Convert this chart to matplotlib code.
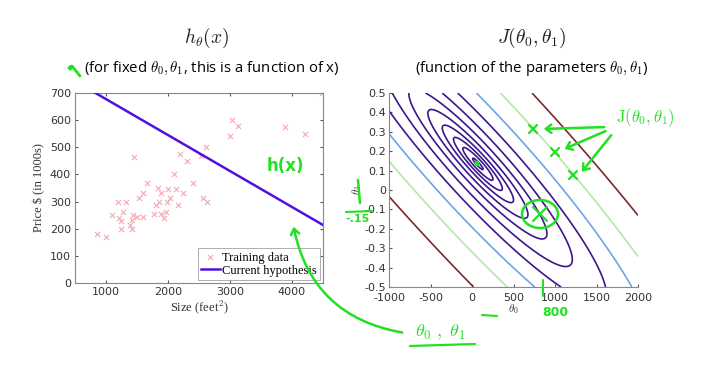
import numpy as np
import matplotlib
matplotlib.use("Agg")
import matplotlib.pyplot as plt
from matplotlib.patches import Ellipse, FancyArrowPatch
from matplotlib.lines import Line2D

plt.rcParams['mathtext.fontset'] = 'cm'

# ---- data ----
house_size = [2104, 1600, 2400, 1416, 3000, 1985, 1534, 1427, 1380, 1494, 1940, 2000,
              1890, 4478, 1268, 2300, 1320, 1236, 2609, 3031, 1767, 1888, 1604, 1962,
              3890, 1100, 1458, 2526, 2200, 2637, 1839, 1000, 2040, 3137, 1811, 1437,
              1239, 2132, 4215, 2162, 1664, 2238, 2567, 1200, 852, 1852, 1203]
house_price = [399.9, 329.9, 369.0, 232.0, 539.9, 299.9, 314.9, 199.0, 212.0, 242.5,
               240.0, 347.0, 330.0, 699.9, 259.9, 449.9, 299.9, 199.9, 500.0, 599.0,
               252.9, 255.0, 242.9, 259.9, 573.9, 249.9, 464.5, 469.0, 475.0, 299.9,
               349.9, 169.9, 314.9, 579.9, 285.9, 249.9, 229.9, 345.0, 549.0, 287.0,
               368.5, 329.9, 314.0, 299.0, 179.9, 299.9, 239.5]
theta_current = [810.0, -0.1325]
contour_levels = [2336, 4281, 7848, 14384, 26367, 48329, 88587, 162378, 297635, 545559, 1000000]
contour_colors = ['#3d1590'] * 8 + ['#6aa6e6', '#b2e8a8', '#7a2a2a']
left_xticks = [1000, 2000, 3000, 4000]
left_yticks = [0, 100, 200, 300, 400, 500, 600, 700]
right_xticks = [-1000, -500, 0, 500, 1000, 1500, 2000]
right_yticks = [-0.5, -0.4, -0.3, -0.2, -0.1, 0, 0.1, 0.2, 0.3, 0.4, 0.5]
right_yticklabels = ['-0.5', '-0.4', '-0.3', '-0.2', '-0.1', '0', '0.1', '0.2', '0.3', '0.4', '0.5']

W, H = 716, 368
fig = plt.figure(figsize=(W / 100, H / 100), dpi=100)
GREEN = '#22e022'
TXT = '#222222'
SERIF = 'Liberation Serif'


def fx(px):
    return px / W


def fy(py):
    return 1 - py / H


# ---- left axes ----
axL = fig.add_axes([fx(75), fy(283), fx(323) - fx(75), fy(93) - fy(283)])
axL.scatter(house_size, house_price, marker='x', s=14, linewidths=0.8,
            color='#f5a8b0', label='Training data', zorder=2)
xs = np.array([500, 4500])
axL.plot(xs, theta_current[0] + theta_current[1] * xs, color='#5010e0', lw=1.8,
         label='Current hypothesis', zorder=3)
axL.set_xlim(500, 4500)
axL.set_ylim(0, 700)
axL.set_xticks(left_xticks)
axL.set_yticks(left_yticks)
axL.tick_params(direction='in', length=2.5, labelsize=8, colors='#555555',
                labelcolor='#333333', top=True, right=True, pad=3)
for s in axL.spines.values():
    s.set_color('#888888')
    s.set_linewidth(0.8)
axL.set_xlabel('Size (feet$^2$)', family=SERIF, fontsize=9, color='#333333', labelpad=1)
axL.set_ylabel('Price \\$ (in 1000s)', family=SERIF, fontsize=9, color='#333333', labelpad=3)
leg = axL.legend(loc='lower right', prop={'family': SERIF, 'size': 9},
                 fancybox=False, edgecolor='#999999', borderpad=0.25,
                 handlelength=1.5, handletextpad=0.2, labelspacing=0.1,
                 borderaxespad=0.25)
leg.get_frame().set_linewidth(0.7)

# ---- right axes ----
axR = fig.add_axes([fx(389), fy(287), fx(638) - fx(389), fy(93) - fy(287)])
x_arr = np.array(house_size, dtype=float)
y_arr = np.array(house_price, dtype=float)
t0 = np.linspace(-1000, 2000, 301)
t1 = np.linspace(-0.5, 0.5, 301)
T0, T1 = np.meshgrid(t0, t1)
J = ((T0[..., None] + T1[..., None] * x_arr - y_arr) ** 2).mean(axis=-1) / 2
axR.contour(T0, T1, J, levels=contour_levels, colors=contour_colors, linewidths=1.2)
axR.set_xlim(-1000, 2000)
axR.set_ylim(-0.5, 0.5)
axR.set_xticks(right_xticks)
axR.set_yticks(right_yticks)
axR.set_xticklabels([str(v) for v in right_xticks])
axR.set_yticklabels(right_yticklabels)
axR.tick_params(direction='in', length=2.5, labelsize=8, colors='#555555',
                labelcolor='#333333', pad=2)
axR.tick_params(axis='x', pad=4)
axR.spines['top'].set_visible(False)
axR.spines['right'].set_visible(False)
for s in ['left', 'bottom']:
    axR.spines[s].set_color('#888888')
    axR.spines[s].set_linewidth(0.8)
axR.set_xlabel(r'$\theta_0$', fontsize=8, color='#333333', labelpad=0)
axR.set_ylabel(r'$\theta_1$', fontsize=8, color='#333333', labelpad=0)

# ---- titles ----
fig.text(fx(207), fy(38), r'$h_\theta(x)$', fontsize=14, ha='center', va='center', color=TXT)
fig.text(fx(212), fy(68), r'(for fixed $\theta_0, \theta_1$, this is a function of x)',
         fontsize=10.7, ha='center', va='center', color='black', family='Open Sans')
fig.text(fx(532), fy(38), r'$J(\theta_0, \theta_1)$', fontsize=14, ha='center', va='center', color=TXT)
fig.text(fx(532), fy(68), r'(function of the parameters $\theta_0, \theta_1$)',
         fontsize=10.7, ha='center', va='center', color='black', family='Open Sans')

# ---- hand-drawn annotations ----
def pline(pts, lw=1.8):
    xsf = [fx(p[0]) for p in pts]
    ysf = [fy(p[1]) for p in pts]
    fig.add_artist(Line2D(xsf, ysf, color=GREEN, lw=lw, solid_capstyle='round',
                          transform=fig.transFigure))


def parrow(p_from, p_to, rad=0.0, lw=1.8):
    fig.add_artist(FancyArrowPatch((fx(p_from[0]), fy(p_from[1])), (fx(p_to[0]), fy(p_to[1])),
                                   transform=fig.transFigure, arrowstyle='->,head_length=4,head_width=3',
                                   connectionstyle=f'arc3,rad={rad}', color=GREEN, lw=lw))


def hx(cx, cy, r=4, lw=1.6):
    pline([(cx - r, cy - r), (cx + r, cy + r)], lw)
    pline([(cx - r, cy + r), (cx + r, cy - r)], lw)


# top-left tick mark
pline([(72, 66), (80, 76)], 2.0)
fig.text(fx(70), fy(68), '\u25c6', color=GREEN, fontsize=6, ha='center', va='center')

# h(x) label and curved arrow
fig.text(fx(285), fy(166), 'h(x)', color=GREEN, fontsize=12, ha='center', va='center',
         family='DejaVu Sans', fontweight='bold')
parrow((405, 333), (293, 224), rad=-0.35)
fig.text(fx(440), fy(332), r'$\mathbf{\theta_0\ ,\ \theta_1}$', color=GREEN, fontsize=13,
         ha='center', va='center')
pline([(410, 346), (475, 344)], 1.6)

# J annotation with arrows and x marks
fig.text(fx(645), fy(118), r'$\mathrm{J}(\theta_0,\theta_1)$', color=GREEN, fontsize=12,
         ha='center', va='center')
parrow((607, 127), (541, 129), rad=0.0)
parrow((608, 130), (562, 150), rad=0.0)
parrow((613, 133), (580, 174), rad=0.0)
hx(533, 129)
hx(555, 152)
hx(573, 175)

# circled X at current theta
fig.add_artist(Ellipse((fx(540), fy(214)), fx(36), 28 / H, transform=fig.transFigure,
                       fill=False, edgecolor=GREEN, lw=1.8))
hx(540, 214, r=7)

# minimum dot
fig.text(fx(477), fy(163), '\u25cf', color=GREEN, fontsize=5, ha='center', va='center')

# -.15 annotation on theta1 axis
fig.text(fx(358), fy(219), '-.15', color=GREEN, fontsize=8, ha='center', va='center',
         fontweight='bold')
pline([(346, 212), (372, 211)], 1.5)
pline([(360, 203), (358, 180)], 1.8)
# 800 annotation on theta0 axis
pline([(543, 280), (543, 296)], 1.5)
fig.text(fx(555), fy(312), '800', color=GREEN, fontsize=9, ha='center', va='center',
         fontweight='bold')
pline([(482, 315), (497, 316)], 1.5)

fig.savefig('out.png', dpi=100)
